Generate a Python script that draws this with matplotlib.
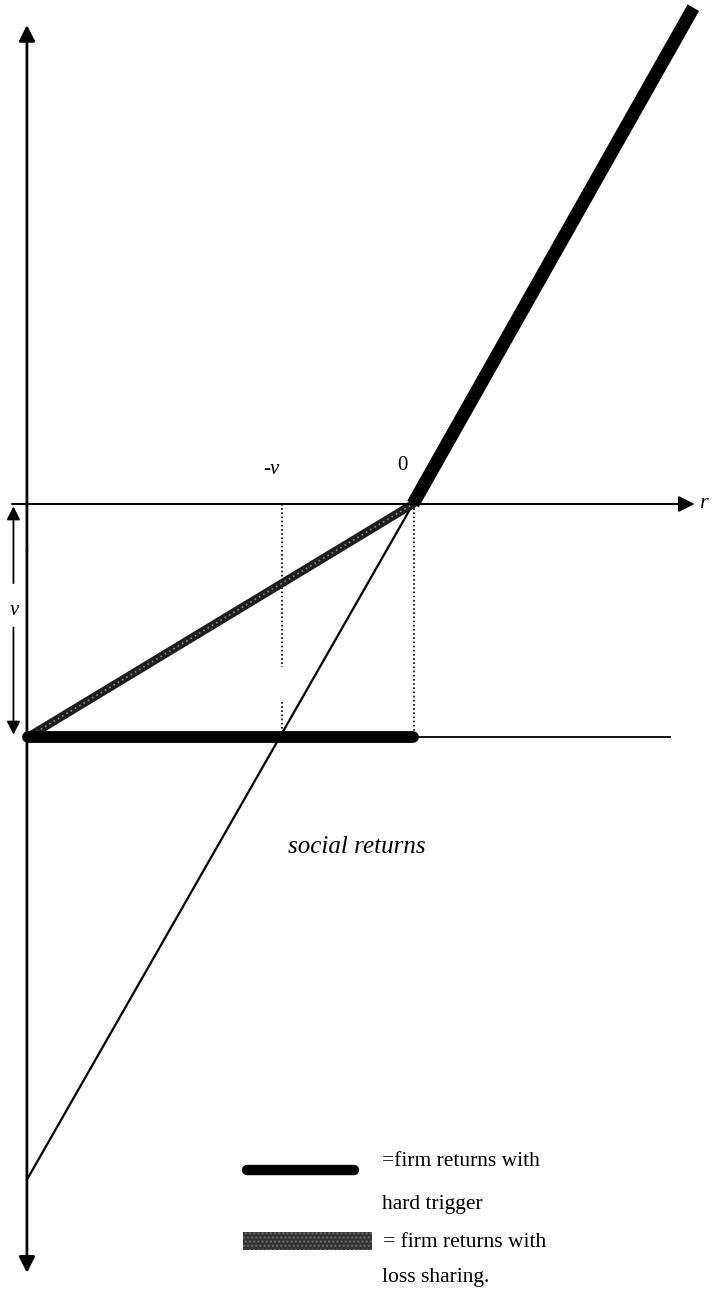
import matplotlib
matplotlib.use('Agg')
import matplotlib.pyplot as plt
from matplotlib.patches import Rectangle

# data (v = 1)
v = 1.0
axis_r = -2.947          # where the vertical axis sits
social_r = [-2.947, 0.0]
social_y = [-2.90, 0.0]
hard_r = [-2.94, 0.0]
hard_y = [-v, -v]
loss_r = [-2.94, 0.0]
loss_y = [-v, 0.0]
up_r = [0.0, 2.14]
up_y = [0.0, 2.13]

serif = ['Liberation Serif', 'DejaVu Serif']

fig = plt.figure(figsize=(7.12, 12.95), dpi=100)
ax = fig.add_axes([0, 0, 1, 1])
ax.set_xlim(-413 / 131, 299 / 131)
ax.set_ylim(-791 / 233, 504 / 233)
ax.axis('off')

arr = dict(arrowstyle='-|>', color='black', lw=2, mutation_scale=24, shrinkA=0, shrinkB=0)
# vertical axis, both ways
ax.annotate('', xy=(axis_r, 2.056), xytext=(axis_r, -0.2), arrowprops=arr)
ax.annotate('', xy=(axis_r, -3.30), xytext=(axis_r, -0.2), arrowprops=arr)
# r axis
ax.annotate('', xy=(2.15, 0), xytext=(-3.06, 0),
            arrowprops=dict(arr, lw=1.5))
ax.text(2.22, 0, 'r', fontsize=16, style='italic', family=serif, va='center', ha='center')

# v span arrow
va = dict(arrowstyle='-|>', color='black', lw=1.3, mutation_scale=20, shrinkA=0, shrinkB=0)
ax.annotate('', xy=(-3.05, -0.01), xytext=(-3.05, -0.34), arrowprops=va)
ax.annotate('', xy=(-3.05, -0.99), xytext=(-3.05, -0.53), arrowprops=va)
ax.text(-3.04, -0.455, 'v', fontsize=15, style='italic', family=serif, ha='center', va='center')

# thin line at -v
ax.plot([-2.947, 1.96], [-v, -v], color='black', lw=1.3)

# dotted guides
ax.plot([-1, -1], [0, -0.70], color='black', lw=1.2, ls=(0, (1, 1.5)))
ax.plot([-1, -1], [-0.85, -v], color='black', lw=1.2, ls=(0, (1, 1.5)))
ax.plot([0.01, 0.01], [0, -v], color='black', lw=1.2, ls=(0, (1, 1.5)))

ax.text(-1.08, 0.146, '-v', fontsize=15, style='italic', family=serif, ha='center', va='center')
ax.text(-0.08, 0.167, '0', fontsize=15, family=serif, ha='center', va='center')

# social returns
ax.plot(social_r, social_y, color='black', lw=1.6)

# firm returns, loss sharing
ax.plot(loss_r, loss_y, color='#1e1e1e', lw=6, solid_capstyle='round')
ax.plot(loss_r, loss_y, color='#8c8c8c', lw=1.2, ls=(0, (1, 2)))

# firm returns, hard trigger
ax.plot(hard_r, hard_y, color='black', lw=8.5, solid_capstyle='round')
ax.plot(up_r, up_y, color='black', lw=9.5, solid_capstyle='butt')

ax.text(-0.43, -1.47, 'social returns', fontsize=18, style='italic', family=serif,
        ha='center', va='center')

# legend
ax.plot([-1.27, -0.45], [-2.858, -2.858], color='black', lw=7.5, solid_capstyle='round')
ax.add_patch(Rectangle((-1.298, -3.201), 0.985, 0.077, facecolor='#333333',
                       edgecolor='#6e6e6e', hatch='....', lw=0))
ax.text(-0.237, -2.82, '=firm returns with', fontsize=15.5, family=serif, va='center')
ax.text(-0.237, -3.005, 'hard trigger', fontsize=15.5, family=serif, va='center')
ax.text(-0.23, -3.17, '= firm returns with', fontsize=15.5, family=serif, va='center')
ax.text(-0.237, -3.32, 'loss sharing.', fontsize=15.5, family=serif, va='center')

fig.savefig('out.png', dpi=100)
